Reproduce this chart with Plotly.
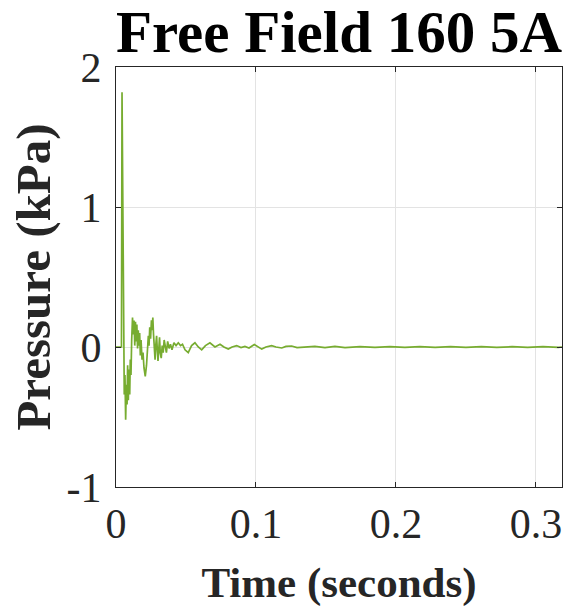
import plotly.graph_objects as go

# Time (s) and pressure (kPa)
time_s = [
    0.0, 0.0039, 0.0043, 0.0049, 0.0054, 0.0059, 0.0064, 0.0069, 0.0074, 0.0079,
    0.0083, 0.0088, 0.0093, 0.0098, 0.0102, 0.0107, 0.0112, 0.0118, 0.0123, 0.0129,
    0.0134, 0.0139, 0.0144, 0.0149, 0.0154, 0.0159, 0.0164, 0.0169, 0.0174, 0.0179,
    0.0186, 0.0193, 0.0200, 0.0209, 0.0218, 0.0225, 0.0231, 0.0236, 0.0241, 0.0247,
    0.0253, 0.0259, 0.0263, 0.0268, 0.0274, 0.0279, 0.0284, 0.0290, 0.0295, 0.0300,
    0.0306, 0.0311, 0.0316, 0.0323, 0.0330, 0.0337, 0.0344, 0.0351, 0.0360, 0.0369,
    0.0379, 0.0389, 0.0400, 0.0414, 0.0429, 0.0445, 0.0461, 0.0475, 0.0493, 0.0516,
    0.0540, 0.0564, 0.0588, 0.0612, 0.0639, 0.0671, 0.0707, 0.0743, 0.0771, 0.0802,
    0.0829, 0.0862, 0.0893, 0.0921, 0.0950, 0.0988, 0.1014, 0.1041, 0.1071, 0.1112,
    0.1143, 0.1184, 0.1214, 0.1255, 0.1293, 0.1350, 0.1421, 0.1493, 0.1564, 0.1636,
    0.1743, 0.1850, 0.1957, 0.2064, 0.2171, 0.2280, 0.2390, 0.2500, 0.2610, 0.2720,
    0.2830, 0.2940, 0.3050, 0.3160, 0.3186,
]
pressure_kpa = [
    0.0, 0.0, 1.82, 1.05, -0.09, -0.34, -0.20, -0.52, -0.27, -0.41,
    -0.13, -0.38, -0.16, -0.34, -0.09, -0.20, 0.05, 0.21, 0.09, 0.19,
    0.01, 0.18, 0.04, 0.16, -0.01, 0.12, 0.01, 0.10, -0.06, 0.05,
    -0.09, -0.04, -0.15, -0.21, -0.13, -0.02, 0.08, 0.01, 0.14, 0.06,
    0.19, 0.12, 0.21, 0.09, -0.02, -0.09, 0.01, 0.08, -0.02, -0.10,
    -0.01, 0.07, -0.04, -0.08, 0.01, -0.04, 0.05, 0.01, -0.04, 0.04,
    -0.01, 0.02, -0.02, 0.03, 0.01, 0.03, 0.01, 0.02, -0.02, -0.04,
    0.01, 0.03, 0.0, -0.02, 0.01, 0.03, 0.0, 0.02, 0.0, -0.015,
    0.0, 0.01, -0.004, 0.004, -0.007, 0.018, 0.0, -0.015, 0.0, 0.01,
    0.0, -0.007, 0.004, 0.007, -0.004, 0.0, 0.004, -0.004, 0.004, -0.004,
    0.003, -0.003, 0.002, -0.002, 0.002, -0.002, 0.002, -0.002, 0.002, -0.002,
    0.002, -0.002, 0.002, -0.002, 0.0,
]

x_tick_vals = [0, 0.1, 0.2, 0.3]
x_tick_text = ["0", "0.1", "0.2", "0.3"]
y_tick_vals = [-1, 0, 1, 2]
y_tick_text = ["-1", "0", "1", "2"]

title_text = "Free Field 160 5A"
x_title = "Time (seconds)"
y_title = "Pressure (kPa)"

FONT = "Liberation Serif, Times New Roman, serif"
AX = "#262626"

fig = go.Figure()
fig.add_trace(go.Scatter(
    x=time_s, y=pressure_kpa, mode="lines",
    line=dict(color="#77AC30", width=1.7),
    showlegend=False, hoverinfo="skip",
))

axis_common = dict(
    showline=True, linecolor=AX, linewidth=1, mirror="ticks",
    ticks="inside", ticklen=5, tickcolor=AX,
    showgrid=True, gridcolor="#e3e3e3", gridwidth=1,
    zeroline=False, automargin=False,
    tickfont=dict(family=FONT, size=42, color=AX),
)

W, H = 566, 609
fig.update_layout(
    width=W, height=H,
    margin=dict(l=116, r=4, t=67, b=122),
    paper_bgcolor="white", plot_bgcolor="white",
    title=dict(
        text="<b>" + title_text + "</b>",
        font=dict(family=FONT, size=59, color="black"),
        x=0.5, xref="paper", xanchor="center",
        y=1 - 31 / H, yref="container", yanchor="middle",
    ),
    xaxis=dict(
        range=[0, 0.3186], tickvals=x_tick_vals, ticktext=x_tick_text,
        ticklabelstandoff=0,
        title=dict(text="<b>" + x_title + "</b>",
                   font=dict(family=FONT, size=43, color=AX), standoff=20),
        **axis_common,
    ),
    yaxis=dict(
        range=[-1, 2], tickvals=y_tick_vals, ticktext=y_tick_text,
        ticklabelstandoff=5,
        title=dict(text="<b>" + y_title + "</b>",
                   font=dict(family=FONT, size=49, color=AX), standoff=0),
        **axis_common,
    ),
)

# remove the browser's default page margin so the figure fills the window exactly
fig.write_html(
    "out.html",
    config={"displayModeBar": False},
    post_script="document.body.style.margin='0';document.body.style.overflow='hidden';",
)
